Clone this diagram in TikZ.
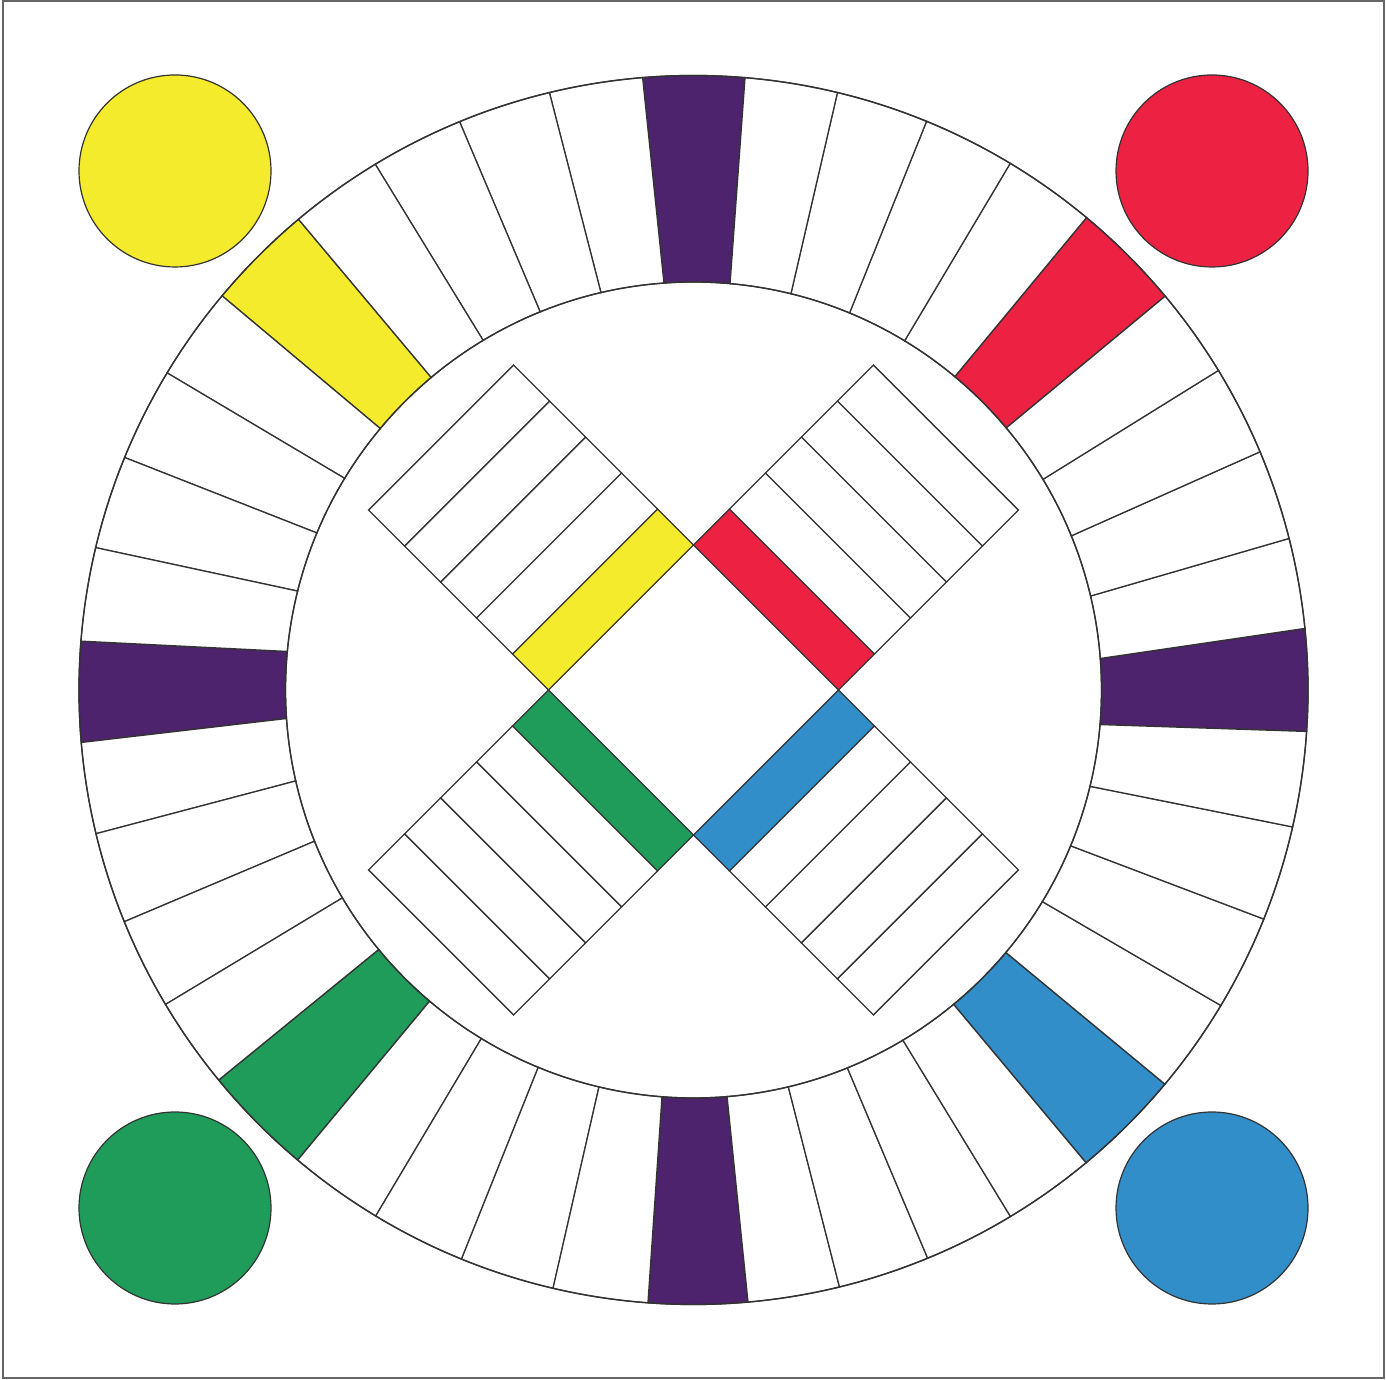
\documentclass[tikz,border=0pt]{standalone}
\definecolor{cyel}{HTML}{F4EB2C}
\definecolor{cred}{HTML}{ED2242}
\definecolor{cpur}{HTML}{4C236C}
\definecolor{cgrn}{HTML}{209C5A}
\definecolor{cblu}{HTML}{318EC9}
\definecolor{cline}{HTML}{333333}
\definecolor{cframe}{HTML}{666666}
\tikzset{
  segline/.style={draw=cline, line width=1.3pt, line join=miter},
  stripbox/.style={draw=cline, line width=1.3pt},
  cornerdisc/.style={circle, draw=cline, line width=1.2pt, minimum size=192pt, inner sep=0pt},
}
\newcommand\boardseg[5]{%
  \filldraw[segline, fill=#1] (#2:614.5) arc[start angle=#2, end angle=#3, radius=614.5pt]
    -- (#5:408) arc[start angle=#5, end angle=#4, radius=408pt] -- cycle;}
\newcommand\whiterun[4]{%
  \foreach \k in {0,...,3}{%
    \pgfmathsetmacro\oa{#1+\k*((#2)-(#1))/4}%
    \pgfmathsetmacro\ob{#1+(\k+1)*((#2)-(#1))/4}%
    \pgfmathsetmacro\ia{#3+\k*((#4)-(#3))/4}%
    \pgfmathsetmacro\ib{#3+(\k+1)*((#4)-(#3))/4}%
    \boardseg{white}{\oa}{\ob}{\ia}{\ib}
  }}
\begin{document}
\begin{tikzpicture}[x=1pt,y=1pt]
\useasboundingbox (0,0) rectangle (1386,1380);
\fill[white] (0,0) rectangle (1386,1380);
\draw[cframe, line width=2pt] (2.5,1.5) rectangle (1383.5,1378.5);

% corner discs
\node[cornerdisc, fill=cyel] (discY) at (175,1209) {};
\node[cornerdisc, fill=cred] (discR) at (1212,1209) {};
\node[cornerdisc, fill=cgrn] (discG) at (175,172) {};
\node[cornerdisc, fill=cblu] (discB) at (1212,172) {};

\begin{scope}[shift={(693.5,690)}]
  % coloured spaces
  \boardseg{cpur}{-3.87}{5.75}{-4.86}{4.43}
  \boardseg{cred}{39.86}{50.24}{39.96}{50.17}
  \boardseg{cpur}{85.19}{94.75}{84.86}{94.15}
  \boardseg{cyel}{130.0}{140.1}{130.0}{140.15}
  \boardseg{cpur}{175.44}{184.9}{174.58}{184.01}
  \boardseg{cgrn}{219.4}{229.9}{219.5}{229.7}
  \boardseg{cpur}{265.75}{275.09}{265.57}{274.72}
  \boardseg{cblu}{309.7}{320.1}{309.6}{319.96}
  % white spaces
  \whiterun{5.75}{39.86}{4.43}{39.96}
  \whiterun{50.24}{85.19}{50.17}{84.86}
  \whiterun{94.75}{130.0}{94.15}{130.0}
  \whiterun{140.1}{175.44}{140.15}{174.58}
  \whiterun{184.9}{219.4}{184.01}{219.5}
  \whiterun{229.9}{265.75}{229.7}{265.57}
  \whiterun{275.09}{309.7}{274.72}{309.6}
  \whiterun{320.1}{356.13}{319.96}{355.14}
  \draw[segline] (0,0) circle[radius=614.5pt];
  \draw[segline] (0,0) circle[radius=408pt];

  % central cross
  \begin{scope}[rotate=45]
    \def\ha{102.5}
    \def\sw{50.9}
    \foreach \i in {0,...,4}{%
      \ifnum\i=0 \def\fc{cred}\else\def\fc{white}\fi
      \filldraw[stripbox, fill=\fc] ({\ha+\i*\sw},-\ha) rectangle ({\ha+(\i+1)*\sw},\ha);
      \ifnum\i=0 \def\fc{cyel}\else\def\fc{white}\fi
      \filldraw[stripbox, fill=\fc] (-\ha,{\ha+\i*\sw}) rectangle (\ha,{\ha+(\i+1)*\sw});
      \ifnum\i=0 \def\fc{cblu}\else\def\fc{white}\fi
      \filldraw[stripbox, fill=\fc] (-\ha,{-\ha-\i*\sw}) rectangle (\ha,{-\ha-(\i+1)*\sw});
      \ifnum\i=0 \def\fc{cgrn}\else\def\fc{white}\fi
      \filldraw[stripbox, fill=\fc] ({-\ha-\i*\sw},-\ha) rectangle ({-\ha-(\i+1)*\sw},\ha);
    }
  \end{scope}
\end{scope}
\end{tikzpicture}
\end{document}
